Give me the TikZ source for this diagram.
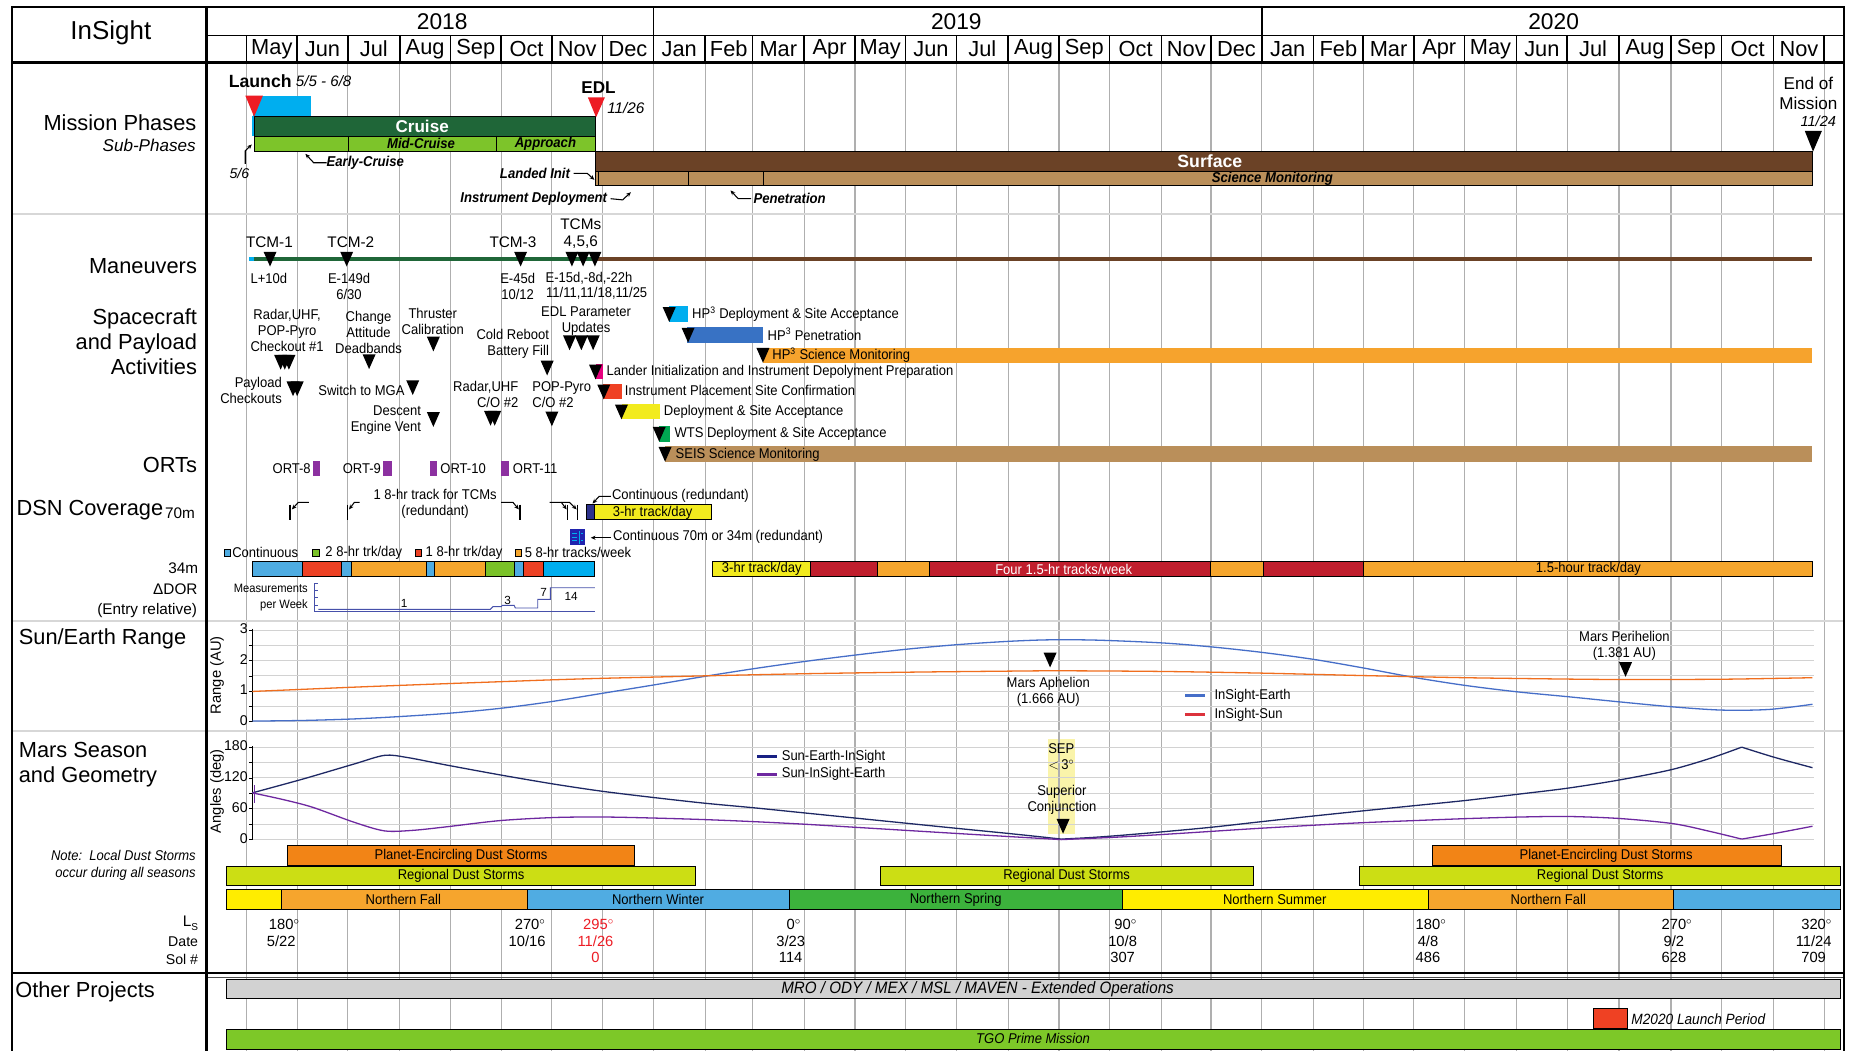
\documentclass[tikz,border=0pt]{standalone}
\usepackage{fontspec}
\setmainfont{Liberation Sans}
\newfontfamily\nar{Liberation Sans}[FakeStretch=0.92]
\usetikzlibrary{arrows.meta}
\definecolor{cruiseG}{RGB}{31,102,56}
\definecolor{subG}{RGB}{125,196,42}
\definecolor{cyanL}{RGB}{0,174,239}
\definecolor{surfB}{RGB}{107,66,38}
\definecolor{tanB}{RGB}{186,143,90}
\definecolor{launchR}{RGB}{237,28,36}
\definecolor{hpBlue}{RGB}{56,114,196}
\definecolor{sciO}{RGB}{246,163,45}
\definecolor{magB}{RGB}{230,0,126}
\definecolor{redO}{RGB}{239,65,35}
\definecolor{yelB}{RGB}{242,235,30}
\definecolor{wtsG}{RGB}{0,166,81}
\definecolor{ortP}{RGB}{140,48,160}
\definecolor{dCyan}{RGB}{78,172,226}
\definecolor{dRed}{RGB}{237,65,36}
\definecolor{dOrg}{RGB}{245,166,45}
\definecolor{dGrn}{RGB}{122,194,40}
\definecolor{crim}{RGB}{192,30,45}
\definecolor{navyB}{RGB}{45,50,140}
\definecolor{peO}{RGB}{242,132,22}
\definecolor{regY}{RGB}{204,222,20}
\definecolor{seaY}{RGB}{255,237,0}
\definecolor{seaO}{RGB}{246,165,45}
\definecolor{seaB}{RGB}{80,172,226}
\definecolor{seaG}{RGB}{60,178,60}
\definecolor{grayB}{RGB}{210,210,210}
\definecolor{tgoG}{RGB}{125,200,40}
\definecolor{earthL}{RGB}{70,110,200}
\definecolor{sunL}{RGB}{240,110,30}
\definecolor{legR}{RGB}{220,50,60}
\definecolor{navyC}{RGB}{30,40,100}
\definecolor{purC}{RGB}{110,40,160}
\definecolor{sepY}{RGB}{250,244,170}
\definecolor{gridC}{RGB}{175,175,175}
\definecolor{pgrid}{RGB}{210,210,210}
\definecolor{secC}{RGB}{215,215,215}
\definecolor{dorB}{RGB}{70,80,170}
\definecolor{redT}{RGB}{237,28,36}
\newcommand{\dtri}[3][black]{\fill[#1] ({#2-5.5},{#3-12.5}) -- ({#2+5.5},{#3-12.5}) -- (#2,#3) -- cycle;}
\newcommand{\dg}{\rlap{$^{\circ}$}}
\tikzset{
 fr/.style={line width=2pt},
 hd/.style={line width=1.3pt},
 vg/.style={draw=gridC, line width=1pt},
 pg/.style={draw=pgrid, line width=0.8pt},
 sec/.style={draw=secC, line width=2.2pt},
 bar/.style={draw=black, line width=0.6pt},
 big/.style={font=\fontsize{18.5}{21.3}\selectfont},
 mon/.style={font=\fontsize{18.5}{20}\selectfont},
 s11/.style={font=\nar\fontsize{12}{13.6}\selectfont, align=center},
 s13/.style={font=\fontsize{13}{15}\selectfont},
 bi/.style={font=\nar\fontsize{12.1}{13}\selectfont\bfseries\itshape},
 ls/.style={font=\fontsize{12.5}{14}\selectfont, align=center},
 arr/.style={-{Stealth[length=4pt,width=3.5pt]}, line width=0.9pt},
 crv/.style={line width=1.1pt},
}
\begin{document}
\begin{tikzpicture}[x=1pt,y=-1pt, every node/.style={inner sep=0pt,outer sep=0pt}]
\useasboundingbox (0,0) rectangle (1568,891);
\fill[white] (0,0) rectangle (1568,891);
% SEP highlight
\fill[sepY] (888.6,627) rectangle (912,707);
% month grid
\foreach \x in {209,252,295,339,382,425,468,511,554,598,638,682,725,768,811,855,898,941,985,1027,1070,1114,1156,1199,1242,1286,1329,1373,1417,1460,1504,1547}{\draw[vg] (\x,53) -- (\x,891);}
% plot grids
\foreach \v in {0,0.5,...,3}{\draw[pg] (214,{612-25.9*\v}) -- (1538,{612-25.9*\v});}
\foreach \a in {0,30,...,180}{\draw[pg] (214,{712-0.4356*\a}) -- (1538,{712-0.4356*\a});}
% section lines
\foreach \y in {181.5,526.5,620}{\draw[sec] (10,\y) -- (1564,\y);}

% ================= Mission phases
\node[big, anchor=east] (lmp) at (166.5,104) {Mission Phases};
\node[font=\fontsize{14.5}{16}\selectfont\itshape, anchor=east] (lsp) at (166,123.4) {Sub-Phases};
\fill[cyanL] (214.8,81.5) rectangle (264,98.5);
\fill[cyanL] (213.5,98.5) rectangle (216.5,115);
\draw[bar, fill=cruiseG] (216,98.3) rectangle (505,115.3);
\node[white, font=\fontsize{14.5}{16}\selectfont\bfseries] (cruise) at (358,107) {Cruise};
\draw[bar, fill=subG] (216,115.3) rectangle (505,128.5);
\draw[bar] (295,115.3) -- (295,128.5) (420.5,115.3) -- (420.5,128.5);
\node[bi] (midc) at (357,122) {Mid-Cruise};
\node[bi] (appr) at (462.5,122) {Approach};
\fill[launchR] (208,81) -- (223,81) -- (215.5,99) -- cycle;
\fill[launchR] (498.5,82.5) -- (513,82.5) -- (505.5,99.5) -- cycle;
\node[font=\fontsize{15}{17}\selectfont\bfseries, anchor=west] (launch) at (194,68.6) {Launch};
\node[font=\fontsize{12.8}{14}\selectfont\itshape, anchor=west] (ldate) at (251,68.6) {5/5 - 6/8};
\node[font=\fontsize{14.5}{16}\selectfont\bfseries] (edl) at (507.5,74.3) {EDL};
\node[font=\fontsize{13}{14}\selectfont\itshape, anchor=west] (edldate) at (515,92) {11/26};
\node[font=\fontsize{12}{14}\selectfont\itshape] (d56) at (203,147) {5/6};
\coordinate (d56a) at (213.5,122.5);
\draw[arr] (208,139) -- (208,128) -- (d56a);
\node[bi, anchor=west] (early) at (277,138) {Early-Cruise};
\draw[arr] (early.west) -- (266,138) -- (259,130.5);
\draw[bar, fill=surfB] (505,128.5) rectangle (1537,145.5);
\node[white, font=\fontsize{15}{16}\selectfont\bfseries] (surface) at (1026,136.8) {Surface};
\draw[bar, fill=tanB] (505,145.5) rectangle (1537,157.5);
\draw[bar] (507,145.5) -- (507,157.5) (584,145.5) -- (584,157.5) (647.5,145.5) -- (647.5,157.5);
\node[bi] (scimon) at (1079,151.5) {Science Monitoring};
\node[bi, anchor=west] (landed) at (424,147) {Landed Init};
\draw[arr] (landed.east) ++(3,0) -- (498,147) -- (504,152.5);
\node[bi, anchor=west] (instdep) at (390.5,168.5) {Instrument Deployment};
\draw[arr] (instdep.east) ++(3,0) -- (528,169.5) -- (535,163);
\node[bi, anchor=west] (pen) at (639,168.5) {Penetration};
\draw[arr] (pen.west) ++(-2,0) -- (626,168.5) -- (619.5,161.5);
\node[font=\fontsize{14.5}{17.5}\selectfont, align=center] (eom) at (1533.5,79.2) {End of\\Mission};
\node[font=\fontsize{12.4}{14}\selectfont\itshape, anchor=east] (eomd) at (1557,102.5) {11/24};
\fill (1530.5,111) -- (1545,111) -- (1537.5,128.5) -- cycle;

% ================= Maneuvers
\node[big, anchor=east] (lman) at (167,226) {Maneuvers};
\fill[cyanL] (211,218) rectangle (215.5,221.6);
\fill[cruiseG] (215.5,218) rectangle (505,221.6);
\fill[surfB] (505,218) rectangle (1537,221.6);
\dtri{229}{226}\dtri{294}{226}\dtri{441.5}{226}\dtri{485}{226}\dtri{494.5}{226}\dtri{504.5}{226}
\node[s13] (tcm1) at (228.5,205) {TCM-1};
\node[s13] (tcm2) at (297.5,205) {TCM-2};
\node[s13] (tcm3) at (435,205) {TCM-3};
\node[s13, align=center, font=\fontsize{13}{15}\selectfont] (tcm456) at (492.5,198) {TCMs\\4,5,6};
\node[s11] (l10) at (228,236) {L+10d};
\node[s11] (e149) at (296,242.5) {E-149d\\6/30};
\node[s11] (e45) at (439,242.5) {E-45d\\10/12};
\node[s11] (e15) at (499.5,236) {E-15d,-8d,-22h};
\node[s11] (d1111) at (506,249) {11/11,11/18,11/25};

% ================= Spacecraft and payload activities
\node[big, anchor=east, align=right] (lsc) at (167,290) {Spacecraft\\and Payload\\Activities};
\node[s11] (radar1) at (243.5,280) {Radar,UHF,\\POP-Pyro\\Checkout \#1};
\dtri{238}{313.5}\dtri{241.5}{313.5}\dtri{245}{313.5}
\node[s11, align=right, anchor=east] (payck) at (239,331) {Payload\\Checkouts};
\dtri{248.5}{336}\dtri{252}{336}
\node[s11] (chatt) at (312.5,282) {Change\\Attitude\\Deadbands};
\dtri{313}{313}
\node[s11] (thrust) at (367,272.5) {Thruster\\Calibration};
\dtri{367.5}{298}
\node[s11, anchor=east] (mga) at (343,331.4) {Switch to MGA};
\dtri{350}{335}
\node[s11, align=right, anchor=east] (dev) at (357,356) {Descent\\Engine Vent};
\dtri{367.5}{362}
\node[s11, align=right, anchor=east] (cold) at (465.5,291.4) {Cold Reboot\\Battery Fill};
\dtri{464}{318.4}
\node[s11, align=right, anchor=east] (radar2) at (439.5,334.3) {Radar,UHF\\C/O \#2};
\dtri{416}{361}\dtri{419.5}{361}
\node[s11, align=left, anchor=west] (pop2) at (451.5,334.3) {POP-Pyro\\C/O \#2};
\dtri{468}{361.5}
\node[s11] (edlpar) at (497,272.5) {EDL Parameter\\Updates};
\dtri{483}{297}\dtri{493}{297}\dtri{503}{297}
% bars
\fill[cyanL] (567.5,259.5) rectangle (583.5,273); \dtri{567.5}{273}
\node[s11, anchor=west] (hp3d) at (587,266.5) {HP\textsuperscript{3} Deployment \& Site Acceptance};
\fill[hpBlue] (582.5,277.5) rectangle (647,290.5); \dtri{583.5}{290.5}
\node[s11, anchor=west] (hp3p) at (651,283.5) {HP\textsuperscript{3} Penetration};
\fill[sciO] (647,295) rectangle (1537,307.6); \dtri{647}{307.6}
\node[s11, anchor=west] (hp3s) at (655,301.3) {HP\textsuperscript{3} Science Monitoring};
\fill[magB] (505,308.7) rectangle (511.5,321.7); \dtri{505}{321.7}
\node[s11, anchor=west] (lander) at (514.5,315.5) {Lander Initialization and Instrument Depolyment Preparation};
\fill[redO] (511.7,325.6) rectangle (527.3,338.6); \dtri{512}{338.6}
\node[s11, anchor=west] (ipsc) at (530,331) {Instrument Placement Site Confirmation};
\fill[yelB] (527.3,342.6) rectangle (560,355.6); \dtri{527}{355.6}
\node[s11, anchor=west] (dsa) at (563,349.2) {Deployment \& Site Acceptance};
\fill[wtsG] (559,361) rectangle (568.5,374.5); \dtri{559}{374.5}
\node[s11, anchor=west] (wts) at (572,368) {WTS Deployment \& Site Acceptance};
\fill[tanB] (564,378) rectangle (1537,391.5); \dtri{564}{391.5}
\node[s11, anchor=west] (seis) at (573,385.5) {SEIS Science Monitoring};

% ================= ORTs
\node[big, anchor=east] (lort) at (167,394.4) {ORTs};
\fill[ortP] (265.4,390.7) rectangle (271.4,403.4);
\node[s11, anchor=east] (ort8) at (263.5,397.2) {ORT-8};
\fill[ortP] (325,390.7) rectangle (332,403.4);
\node[s11, anchor=east] (ort9) at (323,397.2) {ORT-9};
\fill[ortP] (365,390.7) rectangle (371,403.4);
\node[s11, anchor=west] (ort10) at (373.5,397.2) {ORT-10};
\fill[ortP] (424.6,390.7) rectangle (431.3,403.4);
\node[s11, anchor=west] (ort11) at (435,397.2) {ORT-11};

% ================= DSN
\node[big, anchor=west] (ldsn) at (14,432.5) {DSN Coverage};
\node[s13, anchor=west] (l70) at (140,435) {70m};
\node[s11] (tcmtrk) at (369,427) {1 8-hr track for TCMs\\(redundant)};
\foreach \x in {246,294.5,441,481.5,490}{\draw[line width=1.1pt] (\x,428) -- (\x,441);}
\draw[arr] (262,426) -- (253,426) -- (247.5,432);
\draw[arr] (305,426) -- (300.5,426) -- (296,432);
\draw[arr] (425,426) -- (435,426) -- (440,432);
\draw[arr] (466,426) -- (476,426) -- (480.5,432);
\draw[arr] (476,426) -- (483,426) -- (489,432);
\draw[bar, fill=navyB] (497,428) rectangle (504,440.5);
\draw[bar, fill=yelB] (504,428) rectangle (603,440.5);
\node[s11] (t3hr) at (553.5,434.5) {3-hr track/day};
\node[s11, anchor=west] (contr) at (519,420.4) {Continuous (redundant)};
\draw[arr] (contr.west) ++(-1,0.5) -- (508,421) -- (502.5,427);
\fill[navyB!70!blue] (483,449) rectangle (496,462);
\draw[cyanL, line width=1pt] (485,452.5) -- (489.5,452.5) (485,455.5) -- (489.5,455.5) (485,458.5) -- (489.5,458.5) (491.5,450) -- (491.5,461) (493,452.5) -- (494.5,452.5) (493,458.5) -- (494.5,458.5);
\node[s11, anchor=west] (cont2) at (520,455.5) {Continuous 70m or 34m (redundant)};
\draw[arr] (cont2.west) ++(-2,0.5) -- (501,456);
% legend
\draw[bar, fill=dCyan] (190,466) rectangle (195.5,471.5);
\node[s11, anchor=west] (lgc) at (197,468.7) {Continuous};
\draw[bar, fill=dGrn] (265,466) rectangle (270.5,471.5);
\node[s11, anchor=west] (lg2) at (276,468.7) {2 8-hr trk/day};
\draw[bar, fill=dRed] (352,466) rectangle (357.5,471.5);
\node[s11, anchor=west] (lg1) at (361,468.7) {1 8-hr trk/day};
\draw[bar, fill=dOrg] (437,466) rectangle (442.5,471.5);
\node[s11, anchor=west] (lg5) at (445,468.7) {5 8-hr tracks/week};
% 34m
\node[s13, anchor=east] (l34) at (168,482) {34m};
\foreach \a/\b/\c in {213.7/256.6/dCyan,256.6/289.3/dRed,289.3/298/dCyan,298/361.3/dOrg,361.3/368.4/dCyan,368.4/412/dOrg,412/436.5/dGrn,436.5/443.6/dCyan,443.6/460.5/dRed,460.5/504.4/cyanL,603.7/687/yelB,687/744/crim,744/788.5/dOrg,788.5/1026/crim,1026/1071/dOrg,1071/1156/crim,1156/1537/dOrg}{\draw[bar, fill=\c] (\a,476) rectangle (\b,488.5);}
\node[s11] (t3b) at (646,482.5) {3-hr track/day};
\node[s11, white] (four) at (902,482.5) {Four 1.5-hr tracks/week};
\node[s11] (t15) at (1347,482.5) {1.5-hour track/day};
% DOR
\node[s13, anchor=east] (ldor) at (167.5,500) {ΔDOR};
\node[s13, anchor=east] (lent) at (167,517.6) {(Entry relative)};
\node[font=\nar\fontsize{10.3}{13.3}\selectfont, align=right, anchor=east] (meas) at (261,507) {Measurements\\per Week};
\draw[dorB, line width=0.7pt] (267,494.5) -- (267,518.7);
\foreach \y in {495,501,507,513}{\draw[dorB, line width=0.7pt] (267,\y) -- (270,\y);}
\draw[dorB, line width=0.8pt] (267,518.7) -- (504.4,518.7);
\draw[dorB, line width=0.8pt] (270,516.7) -- (415.8,516.7) -- (418,514.5) -- (425,514.5) -- (426,513.3) -- (436,513.3) -- (437,515.6) -- (456,515.6) -- (456,508.3) -- (466.8,508.3) -- (466.8,498.4) -- (504.4,498.4);
\node[font=\fontsize{10}{11}\selectfont] (n1) at (342.7,512) {1};
\node[font=\fontsize{10}{11}\selectfont] (n3) at (430.6,509) {3};
\node[font=\fontsize{10}{11}\selectfont] (n7) at (461,502) {7};
\node[font=\fontsize{10}{11}\selectfont] (n14) at (484.4,505.4) {14};

% ================= Sun/Earth range
\node[big, anchor=west] (lser) at (16,542) {Sun/Earth Range};
\draw[line width=0.6pt] (214,533) -- (214,612);
\foreach \v in {0,0.5,...,3}{\draw[line width=0.5pt] (211,{612-25.9*\v}) -- (214,{612-25.9*\v});}
\foreach \v in {0,1,2,3}{\node[font=\fontsize{12}{13}\selectfont, anchor=east] (rt\v) at (210,{611-25.9*\v}) {\v};}
\node[font=\fontsize{12.5}{14}\selectfont, rotate=90] (rau) at (184,572.6) {Range (AU)};
\begin{scope}[shift={(0,612)},yscale=-25.9]
\draw[earthL, crv] plot[smooth] coordinates {(214,0.02) (257,0.04) (300,0.09) (340,0.17) (382,0.28) (425,0.44) (468,0.66) (511,0.93) (554,1.2) (597,1.48) (640,1.74) (682,1.97) (725,2.18) (768,2.37) (811,2.52) (855,2.63) (890,2.68) (930,2.67) (985,2.58) (1027,2.45) (1070,2.27) (1114,2.04) (1156,1.76) (1199,1.45) (1242,1.19) (1286,0.98) (1329,0.82) (1373,0.65) (1417,0.49) (1460,0.38) (1500,0.4) (1537,0.57)};
\draw[sunL, crv] plot[smooth] coordinates {(214,0.99) (257,1.06) (300,1.13) (340,1.19) (382,1.25) (425,1.31) (468,1.37) (511,1.42) (554,1.46) (597,1.5) (682,1.57) (768,1.62) (855,1.655) (900,1.666) (985,1.645) (1070,1.59) (1156,1.51) (1242,1.44) (1329,1.395) (1378,1.381) (1460,1.39) (1537,1.44)};
\end{scope}
\dtri{890.5}{566}
\node[s11] (aph) at (889,587) {Mars Aphelion\\(1.666 AU)};
\node[s11] (peri) at (1377.5,548) {Mars Perihelion\\(1.381 AU)};
\dtri{1378.5}{574}
\draw[earthL, line width=2.2pt] (1005,590) -- (1022,590);
\node[s11, anchor=west] (lge) at (1030,590.5) {InSight-Earth};
\draw[legR, line width=2.2pt] (1005,606) -- (1022,606);
\node[s11, anchor=west] (lgs) at (1030,606) {InSight-Sun};

% ================= Mars season and geometry
\node[big, anchor=north west, align=left] (lmsg) at (16,629.5) {Mars Season\\and Geometry};
\draw[line width=0.6pt] (214,633) -- (214,712);
\foreach \a in {0,30,...,180}{\draw[line width=0.5pt] (211,{712-0.4356*\a}) -- (214,{712-0.4356*\a});}
\foreach \a in {0,60,120,180}{\node[font=\fontsize{12}{13}\selectfont, anchor=east] (at\a) at (210,{711-0.4356*\a}) {\a};}
\node[font=\fontsize{12.5}{14}\selectfont, rotate=90] (adeg) at (184,671) {Angles (deg)};
\begin{scope}[shift={(0,712)},yscale=-0.4356]
\draw[navyC, crv] plot[smooth] coordinates {(214,91) (257,118) (300,147) (326,164) (345,160) (379,145) (424,126) (470,108) (511,94) (554,82) (597,71) (639,62) (682,52) (725,42) (768,32) (811,22) (855,12) (880,6) (900,1)};
\draw[navyC, crv] plot[smooth] coordinates {(900,1) (925,4) (949,8) (985,15) (1027,24) (1070,35) (1114,46) (1156,56) (1199,66) (1242,76) (1286,88) (1329,100) (1373,116) (1417,136) (1450,158) (1477,180)};
\draw[navyC, crv] plot[smooth] coordinates {(1477,180) (1505,160) (1537,140)};
\draw[purC, crv] plot[smooth] coordinates {(214,91) (240,78) (265,63) (300,34) (326,17) (350,18) (379,25) (424,37) (470,43) (511,44) (554,42) (597,39) (639,35) (682,30) (725,24) (768,18) (811,12) (855,6) (900,0)};
\draw[purC, crv] plot[smooth] coordinates {(900,0) (949,5) (1000,12) (1061,21) (1114,28) (1156,33) (1199,37) (1245,41) (1290,44) (1330,45) (1374,41) (1419,31) (1450,16) (1477,1)};
\draw[purC, crv] plot[smooth] coordinates {(1477,1) (1505,12) (1537,26)};
\end{scope}
\draw[purC, line width=0.8pt] (215.5,666) -- (215.5,681);
\draw[navyC!80!blue, line width=2.2pt] (642,641.6) -- (659,641.6);
\node[s11, anchor=west] (lgsei) at (663,641.6) {Sun-Earth-InSight};
\draw[purC, line width=2.2pt] (642,656.6) -- (659,656.6);
\node[s11, anchor=west] (lgsie) at (663,656.6) {Sun-InSight-Earth};
\node[s11] (sep) at (900,641.5) {SEP\\$<$\,3$^{\circ}$};
\node[s11] (supc) at (900.5,678.5) {Superior\\Conjunction};
\dtri{901.5}{707}
% dust storms
\node[font=\nar\fontsize{12}{14}\selectfont\itshape, align=right, anchor=east] (note) at (166,734) {Note:\ \ Local Dust Storms\\occur during all seasons};
\draw[bar, fill=peO] (244,717) rectangle (538,734);
\node[s11] (pe1) at (391,725.5) {Planet-Encircling Dust Storms};
\draw[bar, fill=peO] (1215,717) rectangle (1511,734);
\node[s11] (pe2) at (1362,725.5) {Planet-Encircling Dust Storms};
\draw[bar, fill=regY] (192,734.3) rectangle (589.6,751);
\node[s11] (rg1) at (391,742.5) {Regional Dust Storms};
\draw[bar, fill=regY] (746.5,734.3) rectangle (1063,751);
\node[s11] (rg2) at (904.5,742.5) {Regional Dust Storms};
\draw[bar, fill=regY] (1153,734.3) rectangle (1561,751);
\node[s11] (rg3) at (1357,742.5) {Regional Dust Storms};
\foreach \a/\b/\c in {192/238.5/seaY,238.5/447/seaO,447/669.8/seaB,669.8/951.8/seaG,951.8/1211/seaY,1211/1419/seaO,1419/1561/seaB}{\draw[bar, fill=\c] (\a,754.6) rectangle (\b,771);}
\node[s11] (nf1) at (342,762.8) {Northern Fall};
\node[s11] (nw1) at (558,762.8) {Northern Winter};
\node[s11] (ns1) at (810.5,762.8) {Northern Spring};
\node[s11] (nsu) at (1081,762.8) {Northern Summer};
\node[s11] (nf2) at (1313,762.8) {Northern Fall};
% Ls labels
\node[s13, anchor=east] (lls) at (168,783) {L\raisebox{-0.45ex}{\fontsize{8.5}{9}\selectfont S}};
\node[font=\fontsize{12}{13}\selectfont, anchor=east] (ldate) at (168,799) {Date};
\node[font=\fontsize{12}{13}\selectfont, anchor=east] (lsol) at (168,813.5) {Sol \#};
\node[ls] (ls1) at (238.5,791) {180\dg\\5/22};
\node[ls] (ls2) at (447,791) {270\dg\\10/16};
\node[ls, text=redT] (ls3) at (505,798) {295\dg\\11/26\\0};
\node[ls] (ls4) at (670.5,798) {0\dg\\3/23\\114};
\node[ls] (ls5) at (952,798) {90\dg\\10/8\\307};
\node[ls] (ls6) at (1211,798) {180\dg\\4/8\\486};
\node[ls] (ls7) at (1419.5,798) {270\dg\\9/2\\628};
\node[ls] (ls8) at (1538,798) {320\dg\\11/24\\709};

% ================= Other projects
\draw[line width=2pt] (10,825) -- (1564,825);
\draw[line width=0.8pt, black!70] (175,829) -- (1564,829);
\node[big, anchor=west] (lop) at (13,841) {Other Projects};
\draw[bar, fill=grayB] (192,830.5) rectangle (1561,846.4);
\node[font=\nar\fontsize{14}{15}\selectfont\itshape] (mro) at (829,839) {MRO / ODY / MEX / MSL / MAVEN - Extended Operations};
\draw[bar, fill=redO] (1351,855) rectangle (1380,872);
\node[font=\nar\fontsize{12.6}{13}\selectfont\itshape, anchor=west] (m2020) at (1383.5,864) {M2020 Launch Period};
\draw[bar, fill=tgoG] (192,872.7) rectangle (1561,889.6);
\node[font=\nar\fontsize{12}{13}\selectfont\itshape] (tgo) at (876,881) {TGO Prime Mission};

% ================= Header and frame
\fill[white] (175,6) rectangle (1564,53);
\draw[hd] (175,30) -- (1564,30);
\foreach \x in {209,252,295,339,382,425,468,511,598,638,682,725,768,811,855,898,941,985,1027,1114,1156,1199,1242,1286,1329,1373,1417,1460,1504,1547}{\draw[hd] (\x,30) -- (\x,53);}
\draw[hd] (554,6) -- (554,53) (1070,6) -- (1070,53);
\foreach \a/\b/\m in {209/252/May,252/295/Jun,295/339/Jul,339/382/Aug,382/425/Sep,425/468/Oct,468/511/Nov,511/554/Dec,554/598/Jan,598/638/Feb,638/682/Mar,682/725/Apr,725/768/May,768/811/Jun,811/855/Jul,855/898/Aug,898/941/Sep,941/985/Oct,985/1027/Nov,1027/1070/Dec,1070/1114/Jan,1114/1156/Feb,1156/1199/Mar,1199/1242/Apr,1242/1286/May,1286/1329/Jun,1329/1373/Jul,1373/1417/Aug,1417/1460/Sep,1460/1504/Oct,1504/1547/Nov}{\node[mon] (m\a) at ({(\a+\b)/2},41.5) {\m};}
\node[font=\fontsize{19.3}{21}\selectfont] (y18) at (375,18.4) {2018};
\node[font=\fontsize{19.3}{21}\selectfont] (y19) at (811,18.4) {2019};
\node[font=\fontsize{19.3}{21}\selectfont] (y20) at (1317.5,18.4) {2020};
\node[font=\fontsize{22}{24}\selectfont] (ins) at (94,28) {InSight};
\draw[fr] (10,891) -- (10,6) -- (1564,6) -- (1564,891);
\draw[fr] (175,6) -- (175,891);
\draw[fr] (10,53) -- (1564,53);
\end{tikzpicture}
\end{document}
